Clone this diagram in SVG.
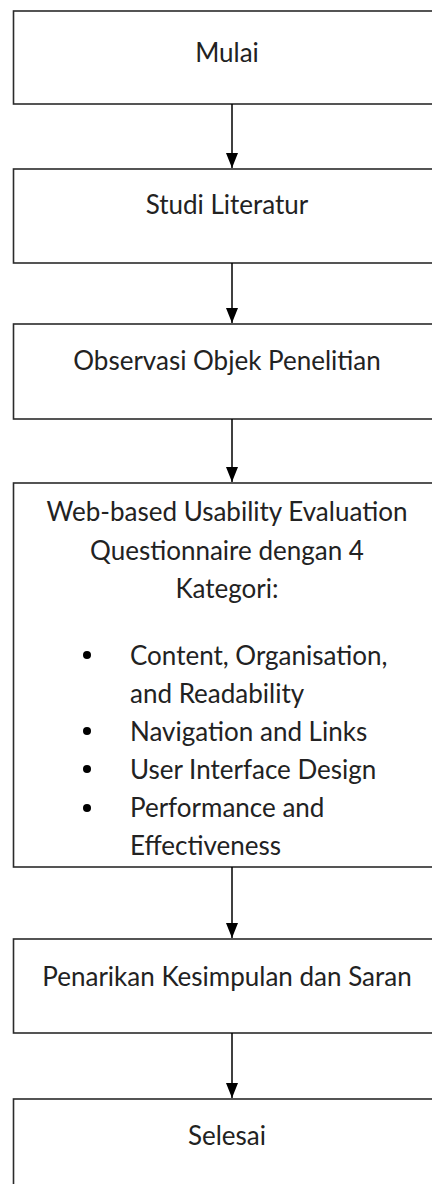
<svg xmlns="http://www.w3.org/2000/svg" width="432" height="1184" viewBox="0 0 432 1184">
<defs>
<marker id="ah" markerWidth="15" markerHeight="12" refX="15" refY="6" orient="auto" markerUnits="userSpaceOnUse" viewBox="0 0 15 12">
<path d="M0,0 L15,6 L0,12 Z" fill="#000"/>
</marker>
</defs>
<style>
.box{fill:#fff;stroke:#2b2b2b;stroke-width:1.6}
.t{font-family:Lato,"Open Sans",sans-serif;font-size:26px;fill:#222}
.c{text-anchor:middle}
.ln{stroke:#000;stroke-width:1.5;fill:none}
.b{fill:#000}
</style>
<rect width="432" height="1184" fill="#fff"/>
<g id="n1"><rect class="box" x="13.5" y="11" width="460" height="93"/><text class="t c" x="227" y="62">Mulai</text></g>
<g id="n2"><rect class="box" x="13.5" y="169" width="460" height="94"/><text class="t c" x="227" y="214">Studi Literatur</text></g>
<g id="n3"><rect class="box" x="13.5" y="324" width="460" height="95"/><text class="t c" x="227" y="370">Observasi Objek Penelitian</text></g>
<g id="n4"><rect class="box" x="13.5" y="483" width="460" height="384"/>
<text class="t c" x="227" y="521">Web-based Usability Evaluation</text>
<text class="t c" x="227" y="560">Questionnaire dengan 4</text>
<text class="t c" x="227" y="598">Kategori:</text>
<circle class="b" cx="87" cy="655" r="4"/>
<circle class="b" cx="87" cy="731" r="4"/>
<circle class="b" cx="87" cy="769" r="4"/>
<circle class="b" cx="87" cy="808" r="4"/>
<text class="t" x="130" y="665">Content, Organisation,</text>
<text class="t" x="130" y="703">and Readability</text>
<text class="t" x="130" y="741">Navigation and Links</text>
<text class="t" x="130" y="779">User Interface Design</text>
<text class="t" x="130" y="817">Performance and</text>
<text class="t" x="130" y="855">Effectiveness</text>
</g>
<g id="n5"><rect class="box" x="13.5" y="939" width="460" height="94"/><text class="t c" x="227" y="986">Penarikan Kesimpulan dan Saran</text></g>
<g id="n6"><rect class="box" x="13.5" y="1099" width="460" height="150"/><text class="t c" x="227" y="1145">Selesai</text></g>
<g id="connectors">
<line class="ln" x1="232" y1="104" x2="232" y2="168" marker-end="url(#ah)"/>
<line class="ln" x1="232" y1="263" x2="232" y2="323" marker-end="url(#ah)"/>
<line class="ln" x1="232" y1="419" x2="232" y2="482" marker-end="url(#ah)"/>
<line class="ln" x1="232" y1="867" x2="232" y2="938" marker-end="url(#ah)"/>
<line class="ln" x1="232" y1="1033" x2="232" y2="1098" marker-end="url(#ah)"/>
</g>
</svg>
